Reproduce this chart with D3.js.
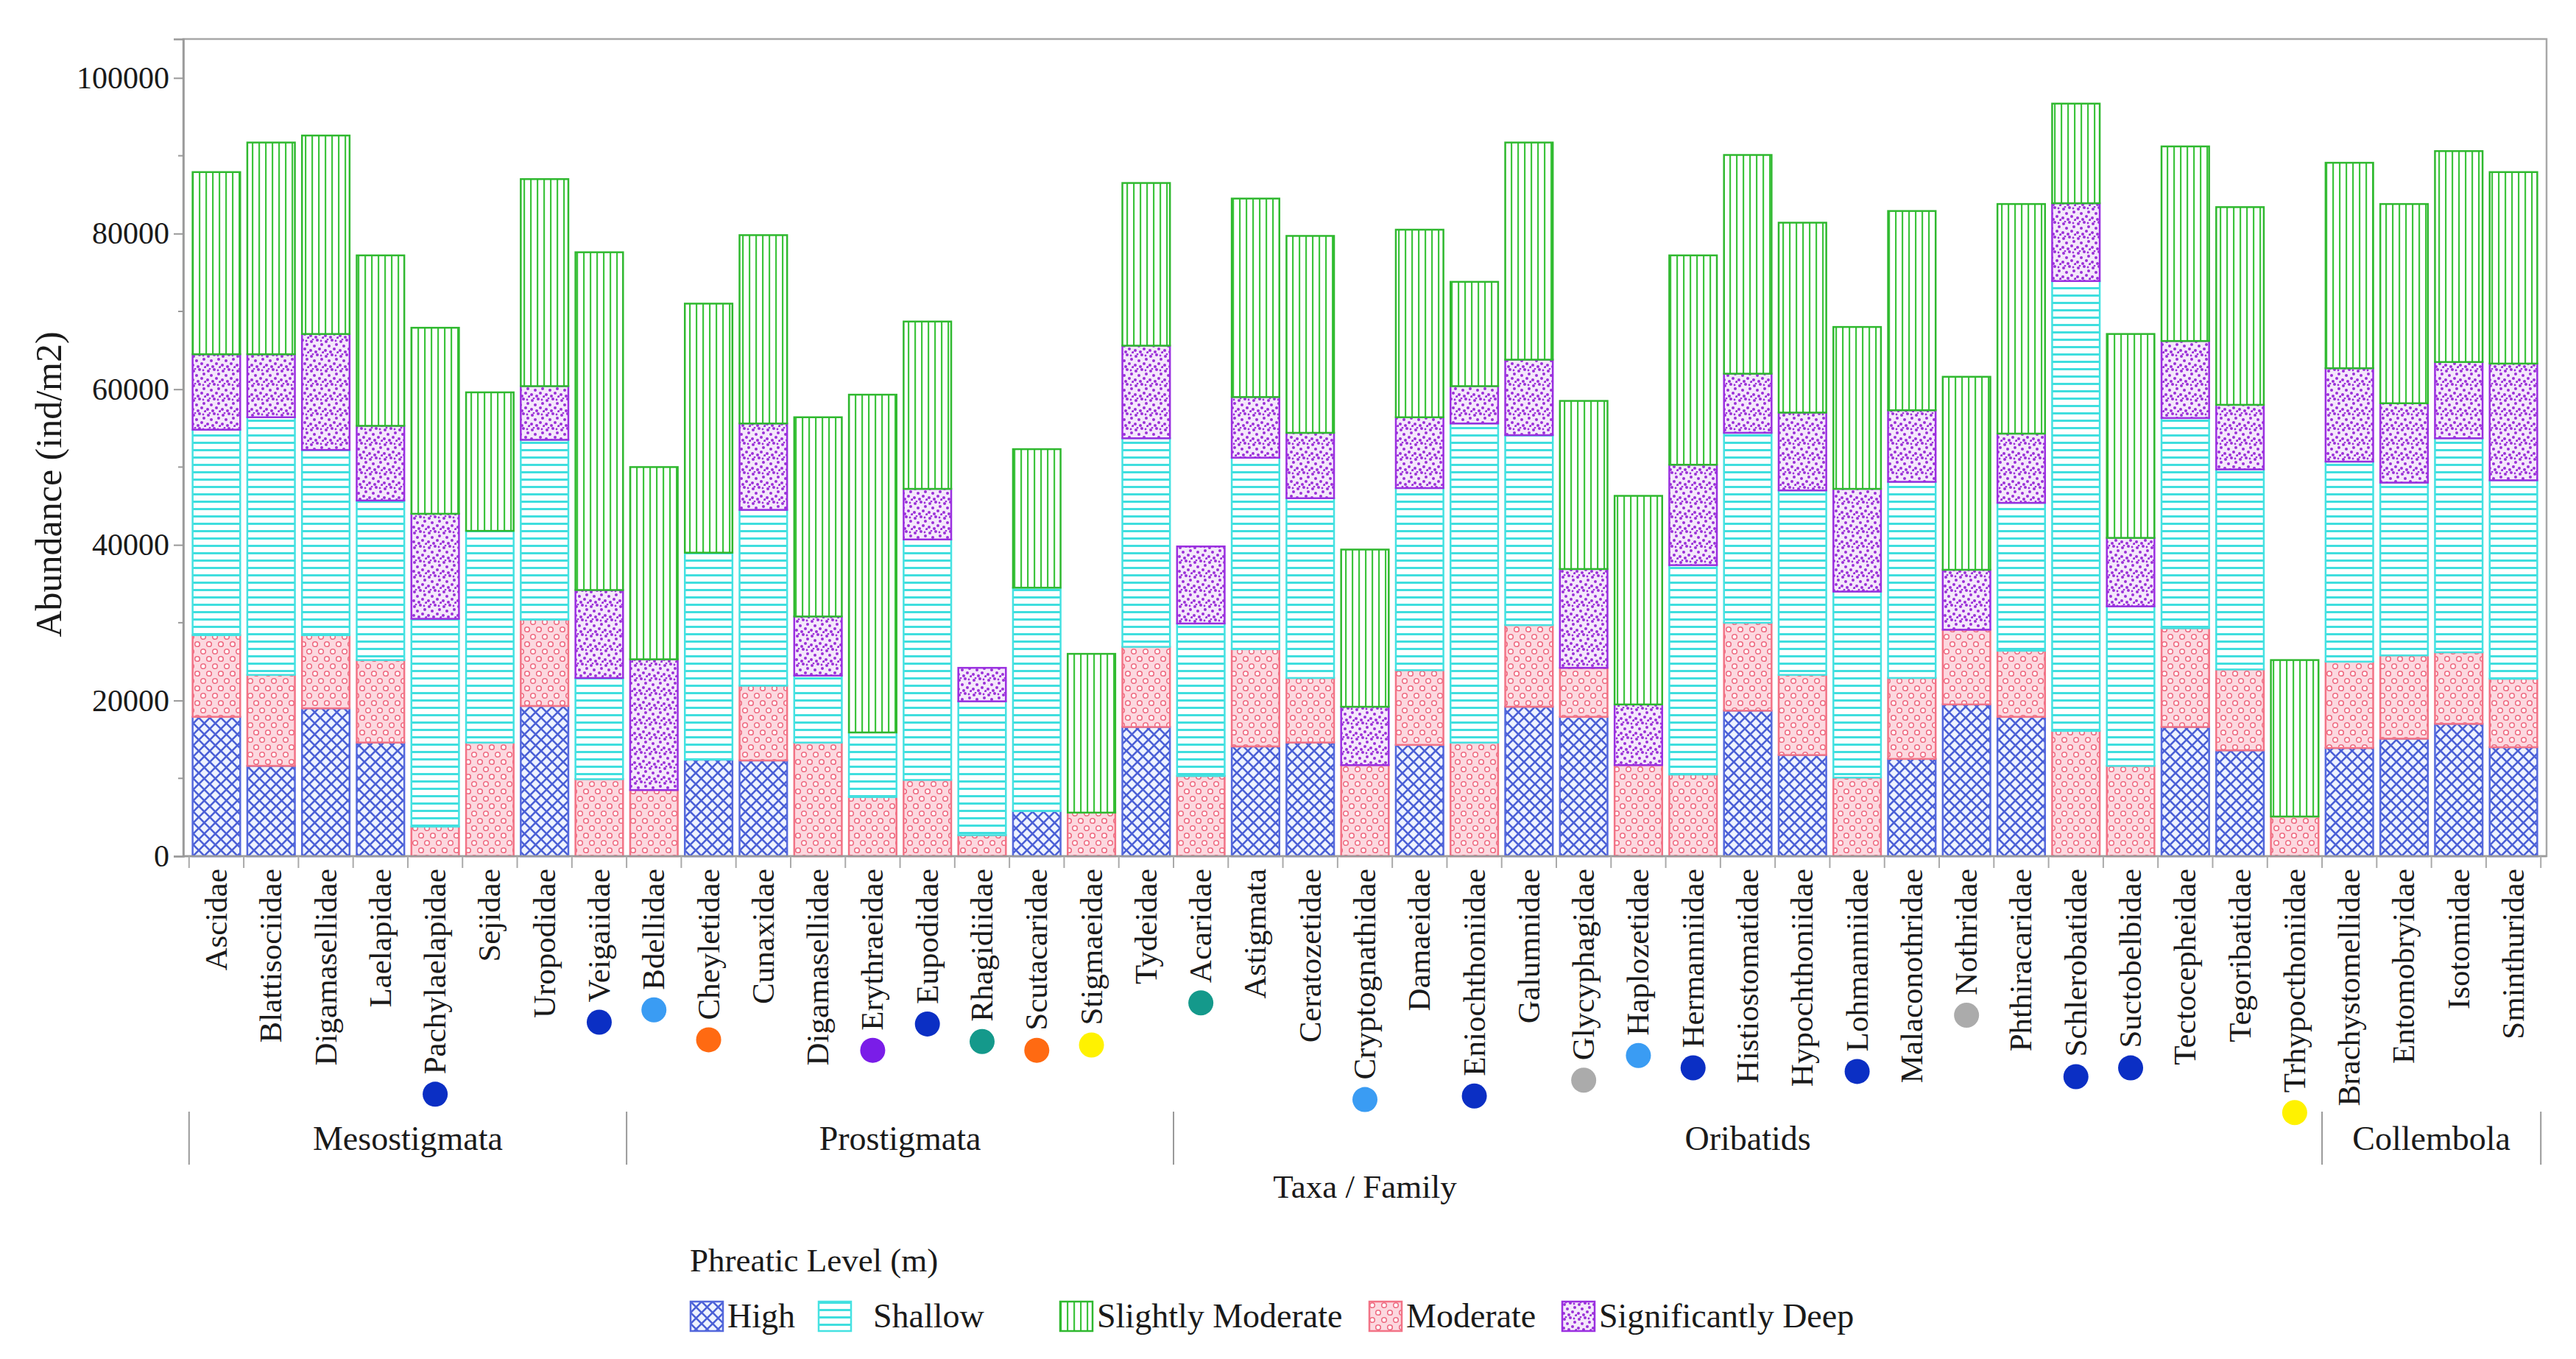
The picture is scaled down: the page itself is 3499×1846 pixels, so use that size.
<!DOCTYPE html>
<html>
<head>
<meta charset="utf-8">
<script src="https://cdn.jsdelivr.net/npm/d3@7"></script>
<style>
  body { margin: 0; background: #fff; }
  text { font-family: "Liberation Serif", "DejaVu Serif", serif; fill: #1a1a1a; }
</style>
</head>
<body>
<svg id="chart"></svg>
<script>
/* =========================
   DATA
========================= */
const families = [
  "Ascidae", "Blattisociidae", "Digamasellidae", "Laelapidae", "Pachylaelapidae", "Sejidae", "Uropodidae", "Veigaiidae",
  "Bdellidae", "Cheyletidae", "Cunaxidae", "Digamasellidae", "Erythraeidae", "Eupodidae", "Rhagidiidae", "Scutacaridae", "Stigmaeidae", "Tydeidae",
  "Acaridae", "Astigmata", "Ceratozetidae", "Cryptognathidae", "Damaeidae", "Eniochthoniidae", "Galumnidae", "Glycyphagidae", "Haplozetidae",
  "Hermanniidae", "Histiostomatidae", "Hypochthoniidae", "Lohmanniidae", "Malaconothridae", "Nothridae", "Phthiracaridae", "Schlerobatidae",
  "Suctobelbidae", "Tectocepheidae", "Tegoribatidae", "Trhypocthoniidae",
  "Brachystomellidae", "Entomobryidae", "Isotomidae", "Sminthuridae"
];

const groupNames = ["Mesostigmata", "Prostigmata", "Oribatids", "Collembola"];
const groupCounts = [8, 10, 21, 4];

// abundance (ind/m2) per phreatic level, in stacking order from the bottom
const high = [
  17900, 11600, 19000, 14600, 0, 0, 19300, 0,
  0, 12400, 12300, 0, 0, 0, 0, 5800, 0, 16600,
  0, 14100, 14600, 0, 14300, 0, 19200, 17900, 0,
  0, 18700, 13000, 0, 12500, 19500, 17900, 0,
  0, 16600, 13600, 0,
  13900, 15100, 17000, 14000
];
const moderate = [
  10500, 11700, 9400, 10600, 3800, 14600, 11100, 9900,
  8500, 0, 9600, 14600, 7600, 9800, 2700, 0, 5600, 10300,
  10300, 12500, 8300, 11700, 9600, 14600, 10500, 6300, 11700,
  10500, 11300, 10300, 10100, 10400, 9600, 8500, 16100,
  11600, 12700, 10400, 5100,
  11100, 10700, 9200, 8800
];
const shallow = [
  26400, 33100, 23800, 20500, 26700, 27200, 23100, 13000,
  0, 26600, 22600, 8600, 8300, 30900, 17200, 28700, 0, 26800,
  19600, 24600, 23100, 0, 23400, 41000, 24400, 0, 0,
  26900, 24400, 23700, 23900, 25200, 0, 19000, 57800,
  20500, 27000, 25700, 0,
  25700, 22200, 27500, 25500
];
const significantlyDeep = [
  9700, 8100, 14900, 9600, 13500, 0, 6900, 11300,
  16800, 0, 11100, 7600, 0, 6500, 4300, 0, 0, 11900,
  9900, 7800, 8400, 7500, 9100, 4800, 9700, 12700, 7800,
  12900, 7600, 10000, 13200, 9200, 7700, 8900, 10000,
  8800, 9900, 8300, 0,
  12000, 10200, 9800, 15000
];
const slightlyModerate = [
  23400, 27200, 25500, 21900, 23900, 17800, 26600, 43400,
  24700, 32000, 24200, 25600, 43400, 21500, 0, 17800, 20400, 20900,
  0, 25500, 25300, 20200, 24100, 13400, 27900, 21600, 26800,
  26900, 28100, 24400, 20800, 25600, 24800, 29500, 12800,
  26200, 25000, 25400, 20100,
  26400, 25600, 27100, 24600
];

// coloured marker under some family names
const markerColors = [
  null, null, null, null, "darkblue", null, null, "darkblue",
  "lightblue", "orange", null, null, "violet", "darkblue", "teal", "orange", "yellow", null,
  "teal", null, null, "lightblue", null, "darkblue", null, "gray", "lightblue",
  "darkblue", null, null, "darkblue", null, "gray", null, "darkblue",
  "darkblue", null, null, "yellow",
  null, null, null, null
];

const yTicks = [0, 20000, 40000, 60000, 80000, 100000];

/* =========================
   SETUP
========================= */
const W = 3499, H = 1846;
const margin = { left: 249, right: 40, top: 53, bottom: 683 };
const x0 = margin.left, x1 = W - margin.right;
const yTop = margin.top, yBot = H - margin.bottom;

const svg = d3.select("#chart").attr("width", W).attr("height", H);

const markerPalette = {
  darkblue: "#0b2fc4", lightblue: "#3a9cf3", orange: "#ff6a12",
  violet: "#7a1de8", teal: "#14998b", yellow: "#fff200", gray: "#ababab"
};

const series = [
  { key: "high", label: "High", values: high, stroke: "#5468dc", pat: "pHigh" },
  { key: "moderate", label: "Moderate", values: moderate, stroke: "#f27386", pat: "pMod" },
  { key: "shallow", label: "Shallow", values: shallow, stroke: "#45e2e2", pat: "pShal" },
  { key: "deep", label: "Significantly Deep", values: significantlyDeep, stroke: "#9a2fe0", pat: "pDeep" },
  { key: "slight", label: "Slightly Moderate", values: slightlyModerate, stroke: "#2fb82f", pat: "pSlight" }
];

/* ===== PATTERNS ===== */
const defs = svg.append("defs");

const pHigh = defs.append("pattern").attr("id", "pHigh")
  .attr("patternUnits", "userSpaceOnUse").attr("width", 15).attr("height", 15);
pHigh.append("rect").attr("width", 15).attr("height", 15).attr("fill", "#eef3ff");
pHigh.append("path").attr("d", "M0,0 L15,15 M15,0 L0,15 M-2,13 L2,17 M13,-2 L17,2 M13,17 L17,13 M-2,2 L2,-2")
  .attr("stroke", "#4a5fd6").attr("stroke-width", 2.6);

const pMod = defs.append("pattern").attr("id", "pMod")
  .attr("patternUnits", "userSpaceOnUse").attr("width", 16).attr("height", 20);
pMod.append("rect").attr("width", 16).attr("height", 20).attr("fill", "#fcd8df");
[[4, 5], [12, 15]].forEach(([cx, cy]) => {
  pMod.append("circle").attr("cx", cx).attr("cy", cy).attr("r", 3.3)
    .attr("fill", "#fff").attr("stroke", "#ef6b82").attr("stroke-width", 1.6);
});

const pShal = defs.append("pattern").attr("id", "pShal")
  .attr("patternUnits", "userSpaceOnUse").attr("width", 10).attr("height", 10);
pShal.append("rect").attr("width", 10).attr("height", 10).attr("fill", "#fff");
pShal.append("rect").attr("y", 0).attr("width", 10).attr("height", 3).attr("fill", "#3fdede");

const pSlight = defs.append("pattern").attr("id", "pSlight")
  .attr("patternUnits", "userSpaceOnUse").attr("width", 9).attr("height", 9);
pSlight.append("rect").attr("width", 9).attr("height", 9).attr("fill", "#fff");
pSlight.append("rect").attr("x", 0).attr("width", 2.2).attr("height", 9).attr("fill", "#3cc43c");

const pDeep = defs.append("pattern").attr("id", "pDeep")
  .attr("patternUnits", "userSpaceOnUse").attr("width", 20).attr("height", 20);
pDeep.append("rect").attr("width", 20).attr("height", 20).attr("fill", "#f4e8fb");
[[3, 4], [11, 2], [17, 8], [7, 10], [14, 14], [2, 16], [9, 18], [19, 19], [5, 1], [16, 3]].forEach(([cx, cy], k) => {
  pDeep.append("circle").attr("cx", cx).attr("cy", cy).attr("r", k > 7 ? 1.4 : 2)
    .attr("fill", "#9b30d8");
});

/* =========================
   SCALES
========================= */
const x = d3.scaleBand()
  .domain(d3.range(families.length))
  .range([x0, x1])
  .paddingInner(0.13)
  .paddingOuter(0.17);

const y = d3.scaleLinear().domain([0, 105000]).range([yBot, yTop]);

const rows = families.map((f, i) => {
  const r = { i };
  series.forEach((s) => (r[s.key] = s.values[i]));
  return r;
});

const stacked = d3.stack().keys(series.map((s) => s.key))(rows);

/* =========================
   FRAME + AXES
========================= */
svg.append("path")
  .attr("d", `M${x0},${yBot} L${x0},${yTop} L${x1},${yTop} L${x1},${yBot} Z`)
  .attr("fill", "none").attr("stroke", "#a8a8a8").attr("stroke-width", 2.5);

// minor y ticks
svg.append("g").selectAll("line")
  .data(d3.range(10000, 105000, 20000))
  .join("line")
  .attr("x1", x0 - 7).attr("x2", x0)
  .attr("y1", (d) => y(d)).attr("y2", (d) => y(d))
  .attr("stroke", "#999").attr("stroke-width", 2);

const yAxis = svg.append("g")
  .attr("transform", `translate(${x0},0)`)
  .call(d3.axisLeft(y).tickValues(yTicks).tickSize(13).tickPadding(6).tickFormat(d3.format("d")));
yAxis.select(".domain").attr("stroke", "#999").attr("stroke-width", 2.5);
yAxis.selectAll(".tick line").attr("stroke", "#999").attr("stroke-width", 2);
yAxis.selectAll(".tick text")
  .attr("font-size", 42).attr("fill", "#1a1a1a")
  .style("font-family", '"Liberation Serif", "DejaVu Serif", serif');

svg.append("text")
  .attr("transform", `translate(66,${(yTop + yBot) / 2 + 50}) rotate(-90)`)
  .attr("text-anchor", "middle")
  .attr("dominant-baseline", "central")
  .attr("font-size", 50)
  .text("Abundance (ind/m2)");

/* =========================
   BARS
========================= */
const barG = svg.append("g");
stacked.forEach((layer, k) => {
  const s = series[k];
  barG.append("g")
    .selectAll("rect")
    .data(layer.filter((d) => d[1] - d[0] > 0))
    .join("rect")
    .attr("x", (d) => x(d.data.i))
    .attr("width", x.bandwidth())
    .attr("y", (d) => y(d[1]))
    .attr("height", (d) => y(d[0]) - y(d[1]))
    .attr("fill", `url(#${s.pat})`)
    .attr("stroke", s.stroke)
    .attr("stroke-width", 2.5);
});

/* =========================
   X AXIS: boundary ticks, labels, markers
========================= */
const half = (x.step() * x.paddingInner()) / 2;
const boundary = (i) =>
  i < families.length ? x(i) - half : x(families.length - 1) + x.bandwidth() + half;

svg.append("line")
  .attr("x1", x0).attr("x2", x1).attr("y1", yBot).attr("y2", yBot)
  .attr("stroke", "#999").attr("stroke-width", 2.5);

svg.append("g").selectAll("line")
  .data(d3.range(families.length + 1))
  .join("line")
  .attr("x1", (d) => boundary(d)).attr("x2", (d) => boundary(d))
  .attr("y1", yBot).attr("y2", yBot + 16)
  .attr("stroke", "#aaa").attr("stroke-width", 2);

const labelTop = yBot + 17;
const labels = svg.append("g").selectAll("text")
  .data(families)
  .join("text")
  .attr("transform", (d, i) => `translate(${x(i) + x.bandwidth() / 2 + 14},${labelTop}) rotate(-90)`)
  .attr("text-anchor", "end")
  .attr("font-size", 43)
  .text((d) => d);

const markerR = 17;
svg.append("g").selectAll("circle")
  .data(families.map((f, i) => i).filter((i) => markerColors[i]))
  .join("circle")
  .attr("cx", (i) => x(i) + x.bandwidth() / 2)
  .attr("cy", (i) => labelTop + labels.nodes()[i].getComputedTextLength() + 10 + markerR)
  .attr("r", markerR)
  .attr("fill", (i) => markerPalette[markerColors[i]]);

/* ===== GROUPS ===== */
let start = 0;
const groups = groupNames.map((name, g) => {
  const gs = { name, a: start, b: start + groupCounts[g] };
  start += groupCounts[g];
  return gs;
});

const gBounds = [0, ...groups.map((g) => g.b)];
svg.append("g").selectAll("line")
  .data(gBounds)
  .join("line")
  .attr("x1", (d) => boundary(d)).attr("x2", (d) => boundary(d))
  .attr("y1", 1510).attr("y2", 1582)
  .attr("stroke", "#9a9a9a").attr("stroke-width", 2);

svg.append("g").selectAll("text")
  .data(groups)
  .join("text")
  .attr("x", (d) => (boundary(d.a) + boundary(d.b)) / 2)
  .attr("y", 1562)
  .attr("text-anchor", "middle")
  .attr("font-size", 46)
  .text((d) => d.name);

svg.append("text")
  .attr("x", (x0 + x1) / 2)
  .attr("y", 1627)
  .attr("text-anchor", "middle")
  .attr("font-size", 45)
  .text("Taxa / Family");

/* =========================
   LEGEND
========================= */
const legend = svg.append("g");
legend.append("text")
  .attr("x", 937).attr("y", 1727)
  .attr("font-size", 45)
  .text("Phreatic Level (m)");

const legendOrder = ["high", "shallow", "slight", "moderate", "deep"];
const legendX = [938, 1112, 1440, 1860, 2122];
const legendTextDx = [50, 74, 50, 50, 50];
legendOrder.forEach((key, k) => {
  const s = series.find((d) => d.key === key);
  const gItem = legend.append("g").attr("transform", `translate(${legendX[k]},1768)`);
  gItem.append("rect")
    .attr("width", 44).attr("height", 40)
    .attr("fill", `url(#${s.pat})`)
    .attr("stroke", s.stroke).attr("stroke-width", 2.5);
  gItem.append("text")
    .attr("x", legendTextDx[k]).attr("y", 35)
    .attr("font-size", 46)
    .text(s.label);
});
</script>
</body>
</html>
